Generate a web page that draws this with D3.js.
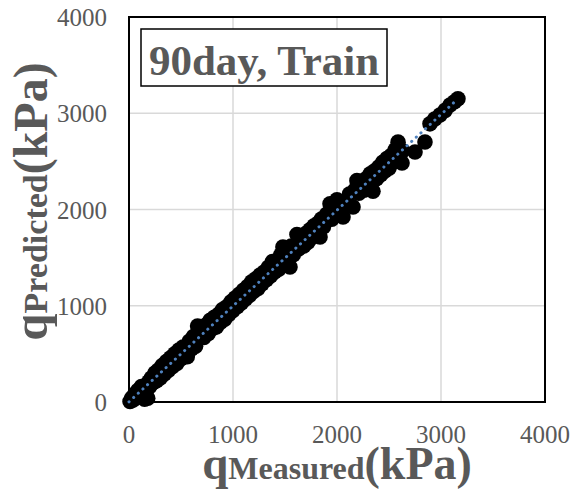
<!DOCTYPE html>
<html lang="en">
<head>
  <meta charset="UTF-8">
  <title>90day, Train</title>
  <style>
    body { margin: 0; background: #fff; }
    svg text { font-family: "Liberation Serif", "Times New Roman", serif; }
  </style>
</head>
<body>
  <div id="chart"></div>
  <script src="https://d3js.org/d3.v7.min.js"></script>
  <script>
    // values (kPa)
    const measured = [10, 25, 40, 55, 70, 85, 100, 120, 130, 150, 165, 180, 190, 200, 215, 230, 250, 265, 280, 300,
      320, 340, 360, 380, 400, 420, 440, 460, 480, 500, 520, 540, 560, 580, 600, 620, 640, 660, 680, 700,
      720, 740, 760, 780, 800, 820, 840, 860, 880, 900, 920, 940, 960, 980, 1000, 1020, 1040, 1060, 1080, 1100,
      1120, 1140, 1160, 1180, 1200, 1220, 1240, 1260, 1280, 1300, 1320, 1340, 1360, 1380, 1400, 1420, 1440, 1460, 1480, 1500,
      1520, 1548, 1560, 1580, 1615, 1630, 1660, 1680, 1700, 1720, 1740, 1760, 1780, 1800, 1820, 1837, 1850, 1870, 1900, 1933,
      1950, 1980, 2000, 2020, 2058, 2070, 2100, 2120, 2154, 2170, 2192, 2210, 2240, 2260, 2280, 2300, 2320, 2346, 2360, 2380,
      2400, 2420, 2440, 2460, 2480, 2500, 2520, 2540, 2560, 2587, 2600, 2625, 2630, 2750, 2846, 2894, 2940, 2990, 3040, 3087,
      3130, 3163];
    const predicted = [5, 40, 20, 80, 50, 120, 70, 160, 90, 30, 70, 40, 210, 160, 250, 200, 300, 220, 330, 250,
      380, 290, 420, 330, 460, 370, 500, 400, 540, 450, 570, 480, 470, 630, 550, 680, 580, 790, 680, 760,
      670, 800, 710, 850, 760, 880, 780, 910, 830, 960, 860, 990, 910, 1040, 950, 1080, 990, 1120, 1030, 1160,
      1070, 1200, 1110, 1250, 1150, 1280, 1180, 1320, 1230, 1350, 1270, 1400, 1310, 1460, 1350, 1470, 1380, 1530, 1610, 1450,
      1580, 1403, 1620, 1530, 1740, 1590, 1720, 1620, 1750, 1660, 1790, 1710, 1830, 1750, 1860, 1714, 1900, 1820, 1950, 2060,
      1900, 2030, 2100, 1960, 1922, 2080, 2050, 2160, 2026, 2200, 2300, 2170, 2280, 2200, 2320, 2240, 2370, 2190, 2400, 2320,
      2440, 2360, 2490, 2400, 2530, 2430, 2560, 2490, 2620, 2700, 2550, 2483, 2610, 2597, 2701, 2890, 2940, 2982, 3030, 3086,
      3120, 3150];
    const xTicks = [0, 1000, 2000, 3000, 4000];
    const yTicks = [0, 1000, 2000, 3000, 4000];

    const width = 576, height = 495;
    const margin = { top: 17, right: 31, bottom: 93, left: 129 };
    const grey = "#595959";

    const svg = d3.select("#chart").append("svg")
      .attr("width", width)
      .attr("height", height);

    const x = d3.scaleLinear().domain([0, 4000]).range([margin.left, width - margin.right]);
    const y = d3.scaleLinear().domain([0, 4000]).range([height - margin.bottom, margin.top]);

    // gridlines
    svg.append("g")
      .selectAll("line")
      .data(xTicks.slice(1, -1))
      .join("line")
      .attr("x1", d => x(d)).attr("x2", d => x(d))
      .attr("y1", y(0)).attr("y2", y(4000))
      .attr("stroke", "#d9d9d9").attr("stroke-width", 1.5);
    svg.append("g")
      .selectAll("line")
      .data(yTicks.slice(1, -1))
      .join("line")
      .attr("x1", x(0)).attr("x2", x(4000))
      .attr("y1", d => y(d)).attr("y2", d => y(d))
      .attr("stroke", "#d9d9d9").attr("stroke-width", 1.5);

    // plot border
    svg.append("rect")
      .attr("x", x(0)).attr("y", y(4000))
      .attr("width", x(4000) - x(0)).attr("height", y(0) - y(4000))
      .attr("fill", "none").attr("stroke", "#000").attr("stroke-width", 2);

    // tick labels
    svg.append("g")
      .selectAll("text")
      .data(xTicks)
      .join("text")
      .attr("x", d => x(d)).attr("y", y(0) + 41)
      .attr("text-anchor", "middle")
      .attr("font-size", 25).attr("fill", grey)
      .text(d => d);
    svg.append("g")
      .selectAll("text")
      .data(yTicks)
      .join("text")
      .attr("x", x(0) - 22).attr("y", d => y(d) + 9)
      .attr("text-anchor", "end")
      .attr("font-size", 25).attr("fill", grey)
      .text(d => d);

    // points
    const pts = measured.map((m, i) => ({ m, p: predicted[i] }));
    svg.append("g")
      .selectAll("circle")
      .data(pts)
      .join("circle")
      .attr("cx", d => x(d.m)).attr("cy", d => y(d.p))
      .attr("r", 7.8)
      .attr("fill", "#000");

    // linear trendline (least squares)
    const mx = d3.mean(measured), my = d3.mean(predicted);
    const slope = d3.sum(pts, d => (d.m - mx) * (d.p - my)) / d3.sum(pts, d => (d.m - mx) ** 2);
    const icpt = my - slope * mx;
    const x0 = 0, x1 = d3.max(measured);
    svg.append("line")
      .attr("x1", x(x0)).attr("y1", y(icpt + slope * x0))
      .attr("x2", x(x1)).attr("y2", y(icpt + slope * x1))
      .attr("stroke", "#4f81bd").attr("stroke-width", 3)
      .attr("stroke-linecap", "round")
      .attr("stroke-dasharray", "0.1 6.2");

    // title box
    svg.append("rect")
      .attr("x", 141).attr("y", 29).attr("width", 246).attr("height", 57)
      .attr("fill", "#fff").attr("stroke", "#000").attr("stroke-width", 1.5);
    svg.append("text")
      .attr("x", 264).attr("y", 75)
      .attr("text-anchor", "middle")
      .attr("font-size", 43).attr("font-weight", "bold").attr("fill", grey)
      .text("90day, Train");

    // axis titles
    const xt = svg.append("text")
      .attr("x", (x(0) + x(4000)) / 2).attr("y", 479)
      .attr("text-anchor", "middle")
      .attr("font-weight", "bold").attr("fill", grey);
    xt.append("tspan").attr("font-size", 47).text("q");
    xt.append("tspan").attr("font-size", 32).text("Measured");
    xt.append("tspan").attr("font-size", 46).text("(kPa)");

    const yt = svg.append("text")
      .attr("transform", `translate(47, ${(y(0) + y(4000)) / 2 - 8}) rotate(-90)`)
      .attr("text-anchor", "middle")
      .attr("font-weight", "bold").attr("fill", grey);
    yt.append("tspan").attr("font-size", 49).text("q");
    yt.append("tspan").attr("font-size", 34).text("Predicted");
    yt.append("tspan").attr("font-size", 48).text("(kPa)");
  </script>
</body>
</html>
